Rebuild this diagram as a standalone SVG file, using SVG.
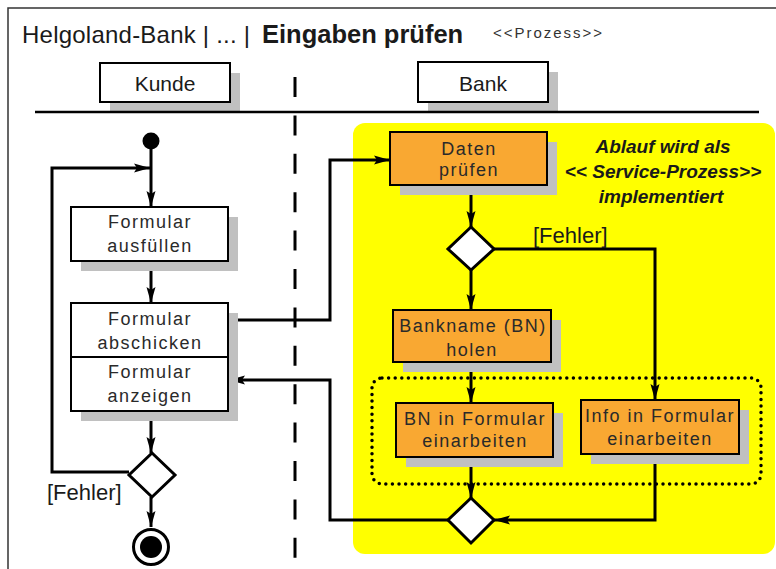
<svg xmlns="http://www.w3.org/2000/svg" width="776" height="569" viewBox="0 0 776 569">
  <style>
    text { font-family: "Liberation Sans", Arial, sans-serif; fill: #1a1a1a; }
    .title { font-size: 24px; }
    .title-b { font-size: 25.5px; font-weight: bold; }
    .stereo { font-size: 15px; fill: #333; }
    .lane { font-size: 21px; text-anchor: middle; }
    .act { font-size: 18px; letter-spacing: 1.5px; text-anchor: middle; fill: #2a2a2a; }
    .guard { font-size: 22px; }
    .note { font-size: 19px; font-style: italic; font-weight: bold; text-anchor: middle; }
    .box { fill: #ffffff; stroke: #000; stroke-width: 2; }
    .obox { fill: #f9a832; stroke: #000; stroke-width: 2; }
    .shadow { fill: #c0c0c0; }
    .dec { fill: #ffffff; stroke: #000; stroke-width: 3; stroke-linejoin: miter; }
    .flow-a { fill: none; stroke: #000; stroke-width: 3; stroke-linejoin: miter; marker-end: url(#arrow); }
  </style>
  <defs>
    <marker id="arrow" viewBox="0 0 16 10" refX="16" refY="5" markerWidth="16" markerHeight="10" markerUnits="userSpaceOnUse" orient="auto">
      <path d="M0,0.5 L16,5 L0,9.5 L3,5 z" fill="#000"/>
    </marker>
  </defs>

  <rect width="776" height="569" fill="#ffffff"/>

  <!-- frame and heading -->
  <g id="frame">
    <path d="M8,569 L8,8 L776,8" fill="none" stroke="#333" stroke-width="1.5"/>
    <text x="22" y="43" class="title" textLength="228" lengthAdjust="spacing">Helgoland-Bank | ... |</text>
    <text x="262" y="43" class="title-b">Eingaben prüfen</text>
    <text x="493" y="38" class="stereo" textLength="109" lengthAdjust="spacing">&lt;&lt;Prozess&gt;&gt;</text>
  </g>

  <!-- swimlanes -->
  <g id="lane-kunde">
    <rect class="shadow" x="110" y="73" width="130" height="39"/>
    <rect class="box" x="100" y="63" width="130" height="39"/>
    <text x="165" y="91" class="lane">Kunde</text>
  </g>
  <g id="lane-bank">
    <rect class="shadow" x="428" y="72" width="130" height="40"/>
    <rect class="box" x="418" y="62" width="130" height="40"/>
    <text x="483" y="91" class="lane">Bank</text>
  </g>
  <g id="lane-lines">
    <line x1="35" y1="112" x2="759" y2="112" stroke="#000" stroke-width="2.5"/>
    <line x1="295" y1="77" x2="295" y2="569" stroke="#000" stroke-width="3" stroke-dasharray="20 18.4"/>
  </g>

  <!-- service process area -->
  <g id="service-area">
    <rect x="353" y="123" width="422" height="431" rx="12" fill="#ffff00"/>
    <rect x="372" y="378" width="389" height="106" rx="10" fill="none" stroke="#000" stroke-width="3.5" stroke-linecap="round" stroke-dasharray="0 6.6"/>
    <text class="note" x="663" y="153">Ablauf wird als</text>
    <text class="note" x="663" y="178">&lt;&lt; Service-Prozess&gt;&gt;</text>
    <text class="note" x="661" y="203">implementiert</text>
  </g>

  <!-- connectors -->
  <g id="connectors">
    <path class="flow-a" d="M151,141 L151,207"/>
    <path class="flow-a" d="M129,472 L52,472 L52,168 L150,168"/>
    <path class="flow-a" d="M151,261 L151,303"/>
    <path class="flow-a" d="M151,411 L151,453"/>
    <path class="flow-a" d="M151,497 L151,527"/>
    <path class="flow-a" d="M228,320 L330,320 L330,160 L390,160"/>
    <path class="flow-a" d="M448,520 L330,520 L330,380 L229,380"/>
    <path class="flow-a" d="M471,185 L471,227"/>
    <path class="flow-a" d="M471,270 L471,310"/>
    <path class="flow-a" d="M494,249 L655,249 L655,400"/>
    <path class="flow-a" d="M471,362 L471,403"/>
    <path class="flow-a" d="M471,457 L471,498"/>
    <path class="flow-a" d="M655,454 L655,520 L494,520"/>
    <text x="47" y="500" class="guard">[Fehler]</text>
    <text x="533" y="243" class="guard">[Fehler]</text>
  </g>

  <!-- Kunde activities -->
  <g id="start">
    <circle cx="151" cy="141" r="8.5" fill="#000"/>
  </g>
  <g id="formular-ausfuellen">
    <rect class="shadow" x="81" y="217" width="157" height="54"/>
    <rect class="box" x="71" y="207" width="157" height="54"/>
    <text class="act" x="150" y="228">Formular</text>
    <text class="act" x="150" y="252">ausfüllen</text>
  </g>
  <g id="formular-abschicken">
    <rect class="shadow" x="81" y="313" width="157" height="54"/>
    <rect class="box" x="71" y="303" width="157" height="54"/>
    <text class="act" x="150" y="325">Formular</text>
    <text class="act" x="150" y="349">abschicken</text>
  </g>
  <g id="formular-anzeigen">
    <rect class="shadow" x="81" y="367" width="157" height="54"/>
    <rect class="box" x="71" y="357" width="157" height="54"/>
    <text class="act" x="150" y="378">Formular</text>
    <text class="act" x="150" y="402">anzeigen</text>
  </g>
  <g id="decision-kunde">
    <path class="dec" d="M152,453 L175,475 L152,497 L129,475 z"/>
  </g>
  <g id="end">
    <circle cx="151" cy="547" r="17.5" fill="#fff" stroke="#000" stroke-width="3"/>
    <circle cx="151" cy="547" r="11" fill="#000"/>
  </g>

  <!-- Bank activities -->
  <g id="daten-pruefen">
    <rect class="shadow" x="400" y="142" width="157" height="53"/>
    <rect class="obox" x="390" y="132" width="157" height="53"/>
    <text class="act" x="469" y="155">Daten</text>
    <text class="act" x="469" y="176">prüfen</text>
  </g>
  <g id="decision-pruefung">
    <path class="dec" d="M471,227 L494,249 L471,270 L448,249 z"/>
  </g>
  <g id="bankname-holen">
    <rect class="shadow" x="403" y="320" width="158" height="52"/>
    <rect class="obox" x="393" y="310" width="158" height="52"/>
    <text class="act" x="473" y="332">Bankname (BN)</text>
    <text class="act" x="472" y="356">holen</text>
  </g>
  <g id="bn-einarbeiten">
    <rect class="shadow" x="406" y="413" width="157" height="54"/>
    <rect class="obox" x="396" y="403" width="157" height="54"/>
    <text class="act" x="475" y="425">BN in Formular</text>
    <text class="act" x="475" y="447">einarbeiten</text>
  </g>
  <g id="info-einarbeiten">
    <rect class="shadow" x="591" y="410" width="158" height="54"/>
    <rect class="obox" x="581" y="400" width="158" height="54"/>
    <text class="act" x="660" y="422">Info in Formular</text>
    <text class="act" x="660" y="445">einarbeiten</text>
  </g>
  <g id="merge">
    <path class="dec" d="M471,498 L494,520 L471,543 L448,520 z"/>
  </g>
</svg>
